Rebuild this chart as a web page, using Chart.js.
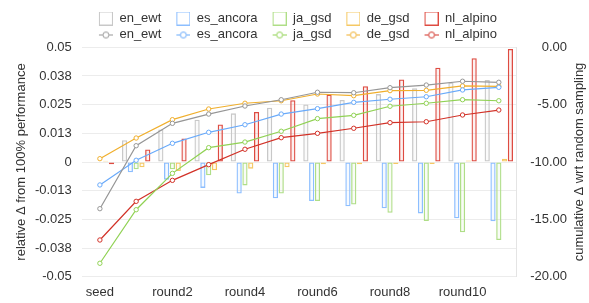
<!DOCTYPE html>
<html>
<head>
<meta charset="utf-8">
<script src="https://cdn.jsdelivr.net/npm/chart.js@4/dist/chart.umd.min.js"></script>
<style>
html,body{margin:0;padding:0;background:#fff;}
#wrap{width:589px;height:303px;}
</style>
</head>
<body>
<div id="wrap"><canvas id="c" width="589" height="303"></canvas></div>
<script>
const categories = ['seed','round1','round2','round3','round4','round5','round6','round7','round8','round9','round10','round11'];
const seriesNames = ['en_ewt','es_ancora','ja_gsd','de_gsd','nl_alpino'];

// bars: relative Δ from 100% performance (left axis)
const relEnEwt    = [0, 0.0095, 0.0142, 0.0184, 0.0212, 0.0237, 0.0251, 0.0270, 0.0296, 0.0321, 0.0347, 0.0357];
const relEsAncora = [0.0002, -0.0045, -0.0077, -0.0113, -0.0137, -0.0158, -0.0170, -0.0193, -0.0202, -0.0224, -0.0245, -0.0258];
const relJaGsd    = [0.0002, -0.0032, -0.0032, -0.0058, -0.0102, -0.0137, -0.0170, -0.0185, -0.0221, -0.0257, -0.0306, -0.0340];
const relDeGsd    = [0.0005, -0.0023, -0.0039, -0.0036, -0.0029, -0.0023, -0.0010, -0.0010, -0.0009, -0.0009, 0.0007, 0.0014];
const relNlAlpino = [-0.0010, 0.0055, 0.0102, 0.0164, 0.0218, 0.0269, 0.0293, 0.0330, 0.0360, 0.0411, 0.0452, 0.0493];

// lines: cumulative Δ wrt random sampling (right axis)
const cumEnEwt    = [-14.07, -8.58, -6.63, -5.82, -5.12, -4.57, -3.92, -3.96, -3.52, -3.29, -2.96, -3.05];
const cumEsAncora = [-12.00, -9.85, -8.37, -7.41, -6.75, -5.82, -5.35, -4.80, -4.53, -4.31, -3.72, -3.49];
const cumJaGsd    = [-18.83, -14.16, -10.99, -8.75, -8.26, -7.32, -6.22, -5.93, -5.14, -4.88, -4.57, -4.66];
const cumDeGsd    = [-9.71, -7.91, -6.31, -5.38, -4.88, -4.66, -4.07, -4.22, -3.78, -3.75, -3.37, -3.40];
const cumNlAlpino = [-16.80, -13.43, -11.60, -10.23, -8.89, -7.88, -7.50, -7.06, -6.57, -6.49, -5.90, -5.47];

const leftTickLabels  = ['-0.05','-0.038','-0.025','-0.013','0','0.013','0.025','0.038','0.05'];
const rightTickLabels = ['-20.00','-15.00','-10.00','-5.00','0.00'];
const leftTitle  = 'relative Δ from 100% performance';
const rightTitle = 'cumulative Δ wrt random sampling';

const lineColors = ['rgb(150,150,150)','rgb(105,170,250)','rgb(145,210,85)','rgb(240,175,45)','rgb(210,50,40)'];
const barColors  = ['rgb(200,200,200)','rgb(140,190,255)','rgb(175,222,135)','rgb(245,200,100)','rgb(222,75,65)'];
const barFills   = ['rgba(200,200,200,0.08)','rgba(140,190,255,0.08)','rgba(175,222,135,0.08)','rgba(245,200,100,0.08)','rgba(222,75,65,0.08)'];

const relData = [relEnEwt, relEsAncora, relJaGsd, relDeGsd, relNlAlpino];
const cumData = [cumEnEwt, cumEsAncora, cumJaGsd, cumDeGsd, cumNlAlpino];

function boxIcon(color){
  const cv = document.createElement('canvas'); cv.width = 26; cv.height = 14;
  const g = cv.getContext('2d');
  g.strokeStyle = color; g.lineWidth = 1;
  g.strokeRect(12.5, 0.5, 13, 13);
  return cv;
}
function lineIcon(color){
  const cv = document.createElement('canvas'); cv.width = 26; cv.height = 14;
  const g = cv.getContext('2d');
  g.strokeStyle = color; g.lineWidth = 1;
  g.beginPath(); g.moveTo(12, 7.5); g.lineTo(26, 7.5); g.stroke();
  g.beginPath(); g.arc(19, 7.5, 3, 0, Math.PI*2); g.fillStyle = '#fff'; g.fill(); g.stroke();
  return cv;
}

Chart.defaults.font.family = '"Liberation Sans", Arial, Helvetica, sans-serif';
Chart.defaults.font.size = 13;
Chart.defaults.color = '#333';

const datasets = [];
seriesNames.forEach((n, i) => {
  datasets.push({
    type: 'bar', label: n, data: relData[i], yAxisID: 'y',
    backgroundColor: barFills[i], borderColor: barColors[i], borderWidth: 1.3,
    borderSkipped: false, order: 1, _icon: boxIcon(barColors[i])
  });
});
seriesNames.forEach((n, i) => {
  datasets.push({
    type: 'line', label: n, data: cumData[i], yAxisID: 'y1',
    borderColor: lineColors[i], backgroundColor: '#fff', borderWidth: 1.2,
    pointRadius: 2.2, pointBorderWidth: 1, pointBackgroundColor: '#fff', pointBorderColor: lineColors[i],
    tension: 0, order: 0, _icon: lineIcon(lineColors[i])
  });
});

const legendFix = {
  id: 'legendFix',
  afterLayout(chart){
    const lg = chart.legend;
    if (!lg) return;
    lg.maxWidth = 440;
    lg.fit();
    lg.left = 72; lg.right = 512; lg.width = 440;
  }
};
const rightTitlePlugin = {
  id: 'rightTitle',
  afterDraw(chart){
    const ctx = chart.ctx, a = chart.chartArea;
    ctx.save();
    ctx.translate(579, (a.top + a.bottom) / 2);
    ctx.rotate(-Math.PI / 2);
    ctx.font = '13px "Liberation Sans", Arial, sans-serif';
    ctx.fillStyle = '#333';
    ctx.textAlign = 'center';
    ctx.textBaseline = 'middle';
    ctx.fillText(rightTitle, 0, 0);
    ctx.restore();
  }
};

new Chart(document.getElementById('c'), {
  type: 'bar',
  data: { labels: categories, datasets },
  options: {
    responsive: false, animation: false, devicePixelRatio: 1,
    layout: { padding: { left: 13.2, right: 22, top: 9, bottom: -4.3 } },
    plugins: {
      tooltip: { enabled: false },
      legend: {
        position: 'top', maxHeight: 38.3,
        labels: {
          usePointStyle: true, pointStyleWidth: 26, padding: 3, color: '#333',
          font: { size: 13 },
          generateLabels(chart){
            return chart.data.datasets.map((ds, i) => ({
              text: ds.label, datasetIndex: i, pointStyle: ds._icon,
              fontColor: '#333', hidden: !chart.isDatasetVisible(i),
              lineWidth: 0, strokeStyle: 'rgba(0,0,0,0)', fillStyle: 'rgba(0,0,0,0)'
            }));
          }
        }
      }
    },
    scales: {
      x: {
        grid: { display: false, drawTicks: false }, border: { display: false },
        ticks: { autoSkip: false, maxRotation: 0, minRotation: 0, padding: 7.5,
          callback: (v, i) => (i % 2 === 0 ? categories[i] : '') }
      },
      y: {
        position: 'left', min: -0.05, max: 0.05,
        ticks: { stepSize: 0.0125, padding: 10, callback: (v, i) => leftTickLabels[i] },
        grid: { color: 'rgb(236,236,236)', drawTicks: false },
        border: { display: false },
        title: { display: true, text: leftTitle, padding: { top: 0, bottom: -3.9 }, font: { size: 13 } }
      },
      y1: {
        position: 'right', min: -20, max: 0,
        ticks: { stepSize: 5, padding: 6.6, crossAlign: 'far', callback: (v, i) => rightTickLabels[i] },
        grid: { display: false, drawTicks: false },
        border: { display: true, color: 'rgb(228,228,228)' }
      }
    }
  },
  plugins: [legendFix, rightTitlePlugin]
});
</script>
</body>
</html>
